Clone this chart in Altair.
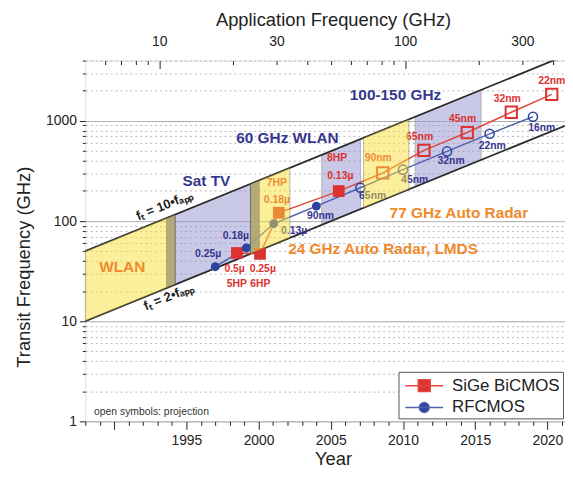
import altair as alt
import pandas as pd

# ---------------- data ----------------
series_names = ["SiGe BiCMOS", "RFCMOS"]

sige_names = ["5HP", "6HP", "7HP", "8HP", "90nm", "65nm", "45nm", "32nm", "22nm"]
sige_year = [1998.5, 2000.1, 2001.4, 2005.55, 2008.6, 2011.45, 2014.45, 2017.5, 2020.3]
sige_ft = [48, 47, 121, 199, 302, 507, 765, 1220, 1840]
sige_projection = [False, False, False, False, True, True, True, True, True]

rf_names = ["0.25u", "0.18u", "0.13u", "90nm", "65nm", "45nm", "32nm", "22nm", "16nm"]
rf_year = [1997.0, 1999.15, 2001.05, 2004.0, 2007.05, 2010.0, 2013.05, 2016.0, 2019.0]
rf_ft = [35, 54, 94, 141, 215, 326, 496, 743, 1100]
rf_projection = [False, False, False, False, True, True, True, True, True]

# application-frequency bands (GHz on the top axis)
band_names = ["WLAN", "Sat TV", "24 GHz", "60 GHz", "77 GHz", "100-150 GHz"]
band_f_lo = [5.0, 10.7, 23.5, 45.8, 67.8, 110.0]
band_f_hi = [11.6, 25.5, 34.0, 65.9, 103.7, 204.0]
band_kind = ["yellow", "lavender", "yellow", "lavender", "yellow", "lavender"]
strip_f_lo = [10.7, 23.5]
strip_f_hi = [11.6, 25.5]

# fT = ratio * f_app boundary lines
bound_ratio = [10, 2]
fapp_range = [5, 447.6]
year_range = [1988, 2021.22]
ft_range = [1, 4000]

# tick values / labels
year_ticks = list(range(1988, 2022))
year_labels = [1995, 2000, 2005, 2010, 2015, 2020]
ft_ticks = [1, 2, 3, 4, 5, 6, 7, 8, 9, 10, 20, 30, 40, 50, 60, 70, 80, 90,
            100, 200, 300, 400, 500, 600, 700, 800, 900, 1000, 2000, 3000, 4000]
ft_labels = [1, 10, 100, 1000]
fapp_ticks = [6, 7, 8, 9, 10, 20, 30, 40, 50, 60, 70, 80, 90, 100, 200, 300, 400]
fapp_labels = [10, 30, 100, 300]

# point annotations
ann_text = ["7HP", "0.18µ", "0.5µ", "5HP", "0.25µ", "6HP", "8HP", "0.13µ", "90nm",
            "65nm", "45nm", "32nm", "22nm",
            "0.25µ", "0.18µ", "0.13µ", "90nm", "65nm", "45nm", "32nm", "22nm", "16nm"]
ann_year = [2001.27, 2001.27, 1998.34, 1998.5, 2000.29, 2000.12, 2005.43, 2005.66, 2008.29,
            2011.15, 2014.13, 2017.22, 2020.3,
            1996.51, 1998.43, 2002.46, 2004.29, 2007.9, 2010.81, 2013.33, 2016.18, 2019.61]
ann_ft = [240, 164, 33, 23.5, 33, 23.5, 427, 280, 427, 689, 1040, 1643, 2512,
          46.7, 70.5, 79, 112, 177, 259, 394, 565, 846]
ann_series = ["SiGe BiCMOS"] * 13 + ["RFCMOS"] * 9

band_label_text = ["WLAN", "Sat TV", "60 GHz WLAN", "100-150 GHz",
                   "77 GHz Auto Radar", "24 GHz Auto Radar, LMDS"]
band_label_year = [1990.56, 1996.39, 2002.0, 2009.48, 2013.87, 2008.62]
band_label_ft = [34.4, 249, 674, 1811, 121, 52.4]
band_label_tone = ["orange", "navy", "navy", "navy", "orange", "orange"]

bound_label_text = ["fₜ = 10•fₐₚₚ", "fₜ = 2•fₐₚₚ"]
bound_label_year = [1993.49, 1993.77]
bound_label_ft = [143, 17.5]

note_text = ["open symbols: projection"]
note_year = [1988.6]
note_ft = [1.23]

# ---------------- tables ----------------
pts = pd.DataFrame({
    "series": ["SiGe BiCMOS"] * len(sige_year) + ["RFCMOS"] * len(rf_year),
    "name": sige_names + rf_names,
    "year": sige_year + rf_year,
    "ft": sige_ft + rf_ft,
    "projection": sige_projection + rf_projection,
})

band_rows = []
for n, lo, hi, k in zip(band_names, band_f_lo, band_f_hi, band_kind):
    for f in (lo, hi):
        band_rows.append({"band": n, "kind": k, "f": f,
                          "low": bound_ratio[1] * f, "high": bound_ratio[0] * f})
bands = pd.DataFrame(band_rows)

strip_rows = []
for i, (lo, hi) in enumerate(zip(strip_f_lo, strip_f_hi)):
    for f in (lo, hi):
        strip_rows.append({"band": f"s{i}", "f": f,
                           "low": bound_ratio[1] * f, "high": bound_ratio[0] * f})
strips = pd.DataFrame(strip_rows)

bound_rows = []
for r in bound_ratio:
    for f in fapp_range:
        bound_rows.append({"which": f"r{r}", "f": f, "ft": r * f})
bounds = pd.DataFrame(bound_rows)

ann = pd.DataFrame({"text": ann_text, "year": ann_year, "ft": ann_ft, "series": ann_series})
band_labels = pd.DataFrame({"text": band_label_text, "year": band_label_year,
                            "ft": band_label_ft, "tone": band_label_tone})
bound_labels = pd.DataFrame({"text": bound_label_text, "year": bound_label_year, "ft": bound_label_ft})
notes = pd.DataFrame({"text": note_text, "year": note_year, "ft": note_ft})

# ---------------- styles ----------------
FONT = "Liberation Sans, Arial, sans-serif"
NARROW = "Liberation Sans Narrow, Liberation Sans, Arial, sans-serif"
RED = "#dc3230"
RED_LINE = "#e0483d"
BLUE = "#2a44a0"
BLUE_LINE = "#4f61ac"
NAVY = "#36378e"
ORANGE = "#ee8a2e"
LAVENDER = "#9592cf"
YELLOW = "#fae13c"
STRIP = "#4a58a6"
INK = "#222222"

year_scale = alt.Scale(domain=year_range, nice=False, zero=False)
f_scale = alt.Scale(type="log", domain=fapp_range, nice=False)
y_scale = alt.Scale(type="log", domain=ft_range, nice=False)

DEC = "indexof(%s, datum.value) >= 0" % str(ft_labels)

y_axis = alt.Axis(
    values=ft_ticks, format="d",
    labelExpr=DEC + " ? datum.label : ''",
    tickSize={"condition": {"test": DEC, "value": 6}, "value": 3},
    tickColor=INK, domain=False, grid=True,
    gridColor={"condition": {"test": DEC, "value": "#a0a0a0"}, "value": "#b8b8b8"},
    gridDash={"condition": {"test": DEC, "value": [1, 0]}, "value": [2, 3]},
    gridWidth=1,
    labelFont=FONT, labelFontSize=14, labelColor=INK, labelPadding=3,
    title="Transit Frequency (GHz)", titleFont=FONT, titleFontSize=18.5, titleFontWeight="normal",
    titleColor=INK, titleAngle=270, titleX=-62, titleY=208, titleAlign="center", titleBaseline="middle",
)

bottom_axis = alt.Axis(
    orient="bottom", values=year_ticks, format="d",
    labelExpr="indexof(%s, datum.value) >= 0 ? datum.label : ''" % str(year_labels),
    tickSize={"condition": {"test": "datum.value % 5 == 0", "value": 8}, "value": 4},
    tickColor=INK, domain=False, grid=False,
    labelFont=FONT, labelFontSize=14, labelColor=INK, labelPadding=4,
    title="Year", titleFont=FONT, titleFontSize=18.5, titleFontWeight="normal", titleColor=INK,
    titleX=250, titleY=38, titleAlign="center", titleBaseline="middle",
)

top_axis = alt.Axis(
    orient="top", values=fapp_ticks, format="d",
    labelExpr="indexof(%s, datum.value) >= 0 ? datum.label : ''" % str(fapp_labels),
    offset=-8, tickSize=8,
    tickDash={"condition": {"test": "datum.value == 10 || datum.value == 100", "value": [8, 2]},
              "value": [0, 4, 4, 2]},
    tickColor=INK, domain=False, grid=False,
    labelFont=FONT, labelFontSize=14, labelColor=INK, labelPadding=12,
    title="Application Frequency (GHz)", titleFont=FONT, titleFontSize=18.5, titleFontWeight="normal",
    titleColor=INK, titleX=250, titleY=-49, titleAlign="center", titleBaseline="middle",
)


def Y(field="ft"):
    return alt.Y(field, type="quantitative", scale=y_scale, axis=y_axis)


def XF(show=True):
    return alt.X("f", type="quantitative", scale=f_scale, axis=top_axis if show else None)


def XY(show=True):
    return alt.X("year", type="quantitative", scale=year_scale, axis=bottom_axis if show else None)


# ---- group 1: lavender bands, strips, boundary lines (top-axis scale)
lav = alt.Chart(bands).transform_filter("datum.kind == 'lavender'").mark_area(
    color=LAVENDER, opacity=0.5, stroke="#555555", strokeWidth=0.8, strokeOpacity=1
).encode(x=XF(), y=Y("low"), y2=alt.Y2("high"), detail="band:N")

strip = alt.Chart(strips).mark_area(
    color=STRIP, opacity=0.75, stroke="#555555", strokeWidth=0.8
).encode(x=XF(), y=Y("low"), y2=alt.Y2("high"), detail="band:N")

bound = alt.Chart(bounds).mark_line(color="#2a2a2a", strokeWidth=1.8, clip=True).encode(
    x=XF(), y=Y("ft"), detail="which:N")

g1 = alt.layer(lav, strip, bound)

# ---- group 2: series (year scale)
red_line = alt.Chart(pts).transform_filter("datum.series == 'SiGe BiCMOS'").mark_line(
    color=RED_LINE, strokeWidth=1.5).encode(x=XY(), y=Y(), order="year:Q")
blue_line = alt.Chart(pts).transform_filter("datum.series == 'RFCMOS'").mark_line(
    color=BLUE_LINE, strokeWidth=1.5).encode(x=XY(), y=Y(), order="year:Q")

sige_filled = alt.Chart(pts).transform_filter("datum.series == 'SiGe BiCMOS' && !datum.projection").mark_point(
    shape="square", filled=True, size=140, color=RED, opacity=1).encode(x=XY(), y=Y())
sige_open = alt.Chart(pts).transform_filter("datum.series == 'SiGe BiCMOS' && datum.projection").mark_point(
    shape="square", filled=False, size=130, color=RED, strokeWidth=2, opacity=1).encode(x=XY(), y=Y())
rf_filled = alt.Chart(pts).transform_filter("datum.series == 'RFCMOS' && !datum.projection").mark_point(
    shape="circle", filled=True, size=80, color=BLUE, opacity=1).encode(x=XY(), y=Y())
rf_open = alt.Chart(pts).transform_filter("datum.series == 'RFCMOS' && datum.projection").mark_point(
    shape="circle", filled=False, size=85, color=BLUE, strokeWidth=1.5, opacity=1).encode(x=XY(), y=Y())

sige_txt = alt.Chart(ann).transform_filter("datum.series == 'SiGe BiCMOS'").mark_text(
    font=NARROW, fontSize=10.5, fontWeight="bold", color=RED).encode(x=XY(), y=Y(), text="text:N")
rf_txt = alt.Chart(ann).transform_filter("datum.series == 'RFCMOS'").mark_text(
    font=NARROW, fontSize=10.5, fontWeight="bold", color=NAVY).encode(x=XY(), y=Y(), text="text:N")

g2 = alt.layer(red_line, blue_line, sige_filled, sige_open, rf_filled, rf_open, sige_txt, rf_txt)

# ---- group 3: yellow bands drawn over the data (top-axis scale, no axis)
yel = alt.Chart(bands).transform_filter("datum.kind == 'yellow'").mark_area(
    color=YELLOW, opacity=0.5, stroke="#555555", strokeWidth=0.8, strokeOpacity=1
).encode(x=XF(False), y=Y("low"), y2=alt.Y2("high"), detail="band:N")
g3 = alt.layer(yel)

# ---- group 4: band labels, boundary labels, note, legend
band_txt = alt.Chart(band_labels).mark_text(font=FONT, fontSize=15.5, fontWeight="bold").encode(
    x=XY(False), y=Y(), text="text:N",
    color=alt.Color("tone:N", scale=alt.Scale(domain=["orange", "navy"], range=[ORANGE, NAVY]), legend=None))
bound_txt = alt.Chart(bound_labels).mark_text(font=FONT, fontSize=13, fontWeight="bold", color=INK,
                                              angle=338).encode(x=XY(False), y=Y(), text="text:N")
note_txt = alt.Chart(notes).mark_text(font=FONT, fontSize=10.5, color="#333333", align="left").encode(
    x=XY(False), y=Y(), text="text:N")

sq_path = "M-1.9,0H1.9M-0.6,-0.6H0.6V0.6H-0.6Z"
circ_path = "M-1.9,0H1.9M-0.5,0A0.5,0.5,0,1,1,0.5,0A0.5,0.5,0,1,1,-0.5,0Z"
LEG = alt.Legend(title=None, orient="none", legendX=316, legendY=314, direction="vertical",
                 fillColor="white", strokeColor="#555555", padding=3, rowPadding=2,
                 labelFont=FONT, labelFontSize=17, labelColor=INK, symbolSize=400,
                 symbolStrokeWidth=1.5, symbolOffset=12, labelOffset=17)
legend_layer = alt.Chart(pts).transform_filter("false").mark_point(filled=True, opacity=1).encode(
    x=XY(False), y=Y(),
    fill=alt.Fill("series:N", scale=alt.Scale(domain=series_names, range=[RED, BLUE]), legend=LEG),
    stroke=alt.Stroke("series:N", scale=alt.Scale(domain=series_names, range=[RED_LINE, BLUE_LINE]), legend=LEG),
    shape=alt.Shape("series:N", scale=alt.Scale(domain=series_names, range=[sq_path, circ_path]), legend=LEG),
)

g4 = alt.layer(band_txt, bound_txt, note_txt, legend_layer)

chart = alt.layer(g1, g2, g3, g4).resolve_scale(x="independent").properties(
    width=484, height=364,
    autosize=alt.AutoSizeParams(type="none"),
    padding={"left": 78, "top": 51, "right": 0, "bottom": 45},
).configure_view(stroke="#222222", strokeWidth=1.5).configure(background="white")

chart.save("out.html", embed_options={"renderer": "svg", "actions": False})
